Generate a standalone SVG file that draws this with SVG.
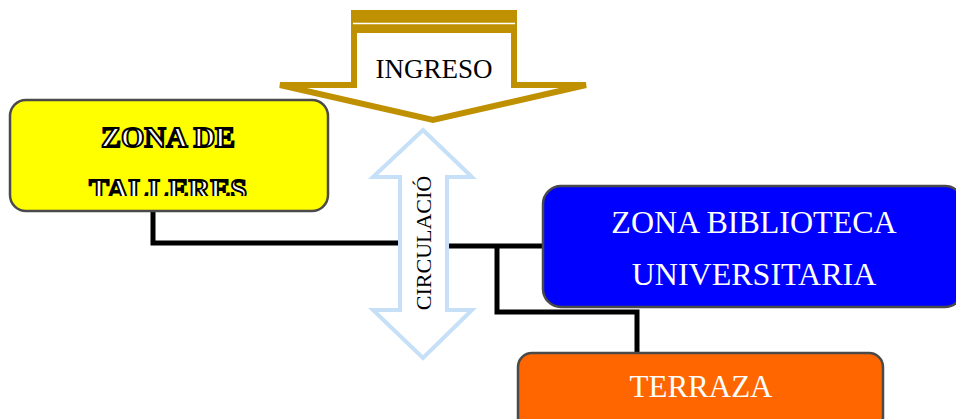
<svg xmlns="http://www.w3.org/2000/svg" width="956" height="419" viewBox="0 0 956 419">
<defs>
<style>
.box{stroke:#4a4a4a;stroke-width:2.5}
.conn{fill:none;stroke:#000;stroke-width:5}
.t{font-family:"Liberation Serif","Times New Roman",serif;text-anchor:middle}
.w{fill:#fff}
.emb{font-weight:bold;fill:#fff;stroke:#000;stroke-width:1.9;font-size:30px}
</style>
<clipPath id="clipY"><rect x="10" y="100" width="320" height="96"/></clipPath>
</defs>
<rect width="956" height="419" fill="#fff"/>
<g id="connectors">
<polyline class="conn" points="153,211 153,243 420,243"/>
<polyline class="conn" points="425,246 545,246"/>
<polyline class="conn" points="497,246 497,312 637,312 637,355"/>
</g>
<g id="ingreso">
<polygon points="354,30 514,30 514,85 586,85 433,120 280,85 354,85" fill="#fff" stroke="#BF9000" stroke-width="6" stroke-linejoin="miter"/>
<rect x="351" y="10" width="166" height="23" fill="#BF9000"/>
<line x1="353" y1="23.5" x2="515" y2="23.5" stroke="#fff" stroke-width="1.5"/>
<text class="t" x="434" y="78" font-size="27">INGRESO</text>
</g>
<g id="circulacion">
<polygon points="423,130 472,177 447,177 447,310 472,310 423,358 373,310 400,310 400,177 373,177" fill="#fff" stroke="#C5E0F7" stroke-width="4"/>
<text class="t" transform="translate(431,243) rotate(-90)" font-size="22">CIRCULACIÓ</text>
</g>
<g id="zona-talleres">
<rect class="box" x="10" y="100" width="318" height="111" rx="16" fill="#FFFF00"/>
<g clip-path="url(#clipY)">
<text class="t emb" x="168" y="147">ZONA DE</text>
<text class="t emb" x="168" y="199">TALLERES</text>
</g>
</g>
<g id="zona-biblioteca">
<rect class="box" x="543" y="186" width="420" height="121" rx="18" fill="#0000FF"/>
<text class="t w" x="754" y="233" font-size="32">ZONA BIBLIOTECA</text>
<text class="t w" x="754" y="285" font-size="32">UNIVERSITARIA</text>
</g>
<g id="terraza">
<rect class="box" x="518" y="353" width="365" height="80" rx="14" fill="#FF6600"/>
<text class="t w" x="701" y="397" font-size="31">TERRAZA</text>
</g>
</svg>
